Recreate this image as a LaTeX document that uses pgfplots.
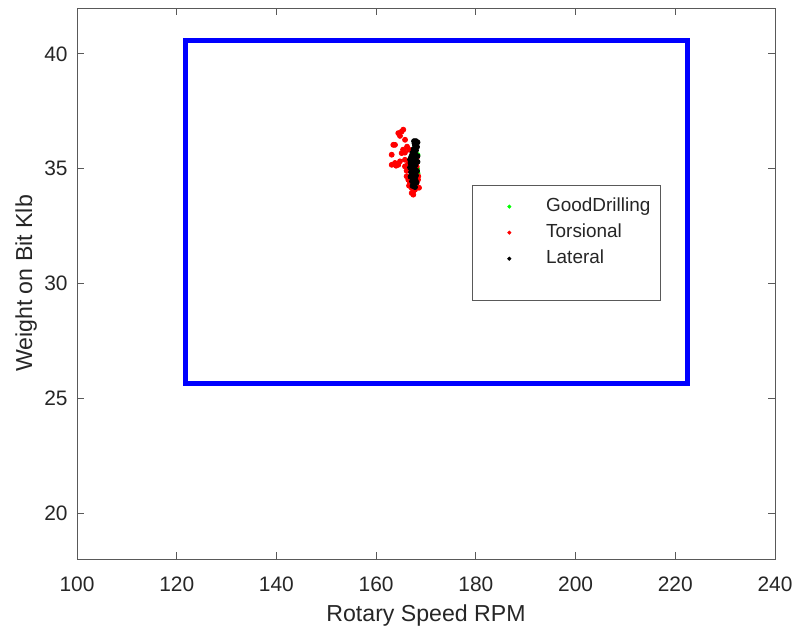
\documentclass[border=0pt]{standalone}
\usepackage{pgfplots}
\pgfplotsset{compat=1.18}
\usepackage{fontspec}
\setmainfont{Liberation Sans}
\definecolor{axgray}{gray}{0.35}
\definecolor{txt}{gray}{0.15}
\pgfplotsset{
  legmark/.style={legend image code/.code={\path[draw=none,fill=none] (-15.5pt,0pt) -- (16.5pt,0pt); \draw[mark repeat=2,mark phase=2,##1] plot coordinates {(0pt,0pt) (0pt,0pt) (0pt,0pt)};}},
}
\begin{document}
\fontsize{10.5}{12.5}\selectfont
\begin{tikzpicture}
\useasboundingbox (-38.5bp,-37bp) rectangle (358bp,279.5bp);
\begin{axis}[
  at={(0,0)}, anchor=south west,
  width=349bp, height=275.5bp, scale only axis,
  xmin=100, xmax=240, ymin=18, ymax=42,
  xtick={100,120,...,240}, ytick={20,25,...,40},
  tick align=inside, major tick length=3.5bp,
  axis line style={draw=axgray},
  tick style={draw=axgray, line width=0.5pt},
  /pgf/number format/assume math mode=true,
  ticklabel style={text=txt, font=\fontsize{10.5}{12.5}\selectfont},
  xticklabel style={yshift=-5.2bp},
  yticklabel style={xshift=-1bp},
  label style={text=txt, font=\fontsize{11.6}{13.5}\selectfont},
  xlabel={Rotary Speed RPM},
  ylabel={Weight on Bit Klb},
  xlabel style={yshift=0.5bp},
  ylabel style={yshift=-3.5bp},
  legend style={at={(0.566,0.679)}, anchor=north west, draw=axgray,
    inner xsep=3pt, inner ysep=4.5pt, font=\fontsize{9.5}{11.5}\selectfont, text=txt,
    row sep=0.6pt},
  legend cell align=left,
  legend image post style={mark size=0.8pt},
]
\addplot[only marks, mark=*, mark size=1.25bp, color={rgb,1:red,0;green,1;blue,0}, legmark] coordinates {
(168.3,35.6) (168.2,35.0) (168.3,34.8)
};
\addlegendentry{GoodDrilling}
\addplot[only marks, mark=*, mark size=1.25bp, color=red, legmark] coordinates {
(164.44,36.55) (165.12,36.62) (165.44,36.70) (164.78,36.43) (163.78,36.04)
(163.44,36.04) (165.78,35.70) (165.12,35.68) (163.12,35.61) (165.78,35.39)
(166.45,35.32) (166.79,35.25) (163.12,35.17) (163.78,35.25) (164.44,35.17)
(164.78,35.32) (165.78,35.10) (166.12,34.91) (166.12,34.67) (166.45,34.52)
(166.79,34.38) (167.13,34.16) (167.45,34.01) (167.79,34.23) (168.13,34.38)
(168.45,34.67) (167.13,33.94) (167.45,33.87) (168.13,35.10) (168.40,34.52)
(166.60,35.83) (165.40,35.83) (165.80,36.26) (166.20,35.96) (167.40,34.96)
(168.60,34.17) (166.60,34.26) (167.80,34.09) (164.00,35.13) (166.30,35.17)
(168.20,35.50)
};
\addlegendentry{Torsional}
\addplot[only marks, mark=*, mark size=1.25bp, color=black, legmark] coordinates {
(167.6,36.2) (168.0,36.2) (168.3,36.15) (167.8,36.0) (168.2,35.95)
(167.5,35.85) (168.0,35.8) (167.3,35.7) (167.8,35.6) (168.3,35.55)
(167.0,35.5) (167.5,35.4) (168.0,35.35) (166.9,35.25) (167.4,35.2)
(167.9,35.15) (168.3,35.3) (166.8,35.05) (167.3,35.0) (167.8,34.95)
(168.2,34.9) (167.0,34.85) (167.5,34.75) (168.0,34.7) (166.9,34.65)
(167.4,34.55) (167.9,34.5) (167.2,34.45) (167.6,34.35) (168.1,34.4)
(167.3,34.25) (167.8,34.2) (166.8,35.4) (167.2,35.6) (167.7,36.1)
};
\addlegendentry{Lateral}
\addlegendimage{empty legend}
\addlegendentry{\rule{0pt}{4pt}}
\addplot[color=blue, line width=2.6bp, forget plot] coordinates {
(121.8,25.65) (222.4,25.65) (222.4,40.6) (121.8,40.6) (121.8,25.65)
} -- cycle;
\end{axis}
\end{tikzpicture}
\end{document}
